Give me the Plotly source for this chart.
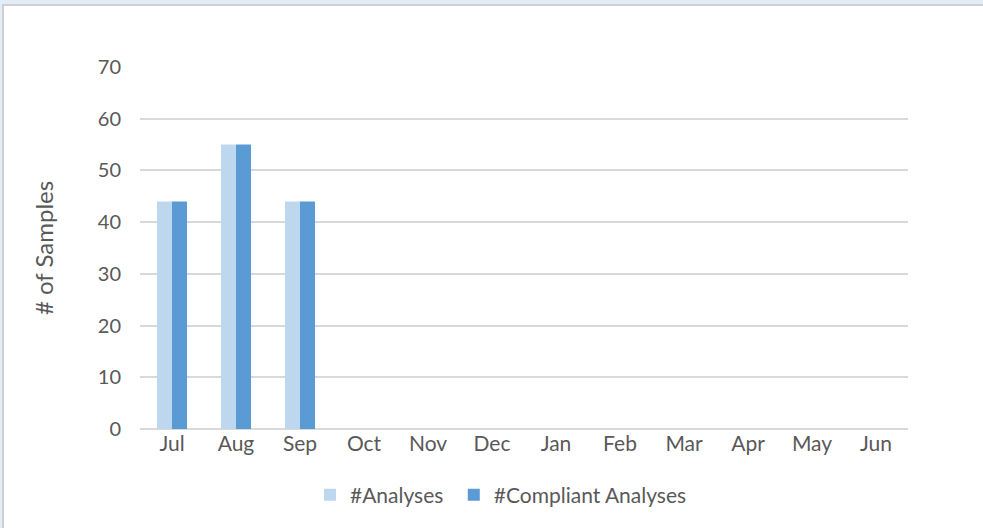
import plotly.graph_objects as go

months = ["Jul", "Aug", "Sep", "Oct", "Nov", "Dec", "Jan", "Feb", "Mar", "Apr", "May", "Jun"]
analyses = [44, 55, 44, None, None, None, None, None, None, None, None, None]
compliant = [44, 55, 44, None, None, None, None, None, None, None, None, None]
series_names = ["#Analyses", "#Compliant Analyses"]
y_ticks = [0, 10, 20, 30, 40, 50, 60, 70]

FONT = "Lato, Open Sans, sans-serif"
GRAY = "#595959"
NBSP = "\u00a0"

L, R, T, B = 140, 75, 67, 99
PW, PH = 983 - L - R, 528 - T - B

fig = go.Figure()
fig.add_trace(go.Bar(x=months, y=analyses, name=series_names[0] + NBSP,
                     marker=dict(color="#bdd7ee", line=dict(width=0))))
fig.add_trace(go.Bar(x=months, y=compliant, name=series_names[1],
                     marker=dict(color="#5b9bd5", line=dict(width=0))))

fig.update_layout(
    width=983, height=528,
    margin=dict(l=L, r=R, t=T, b=B, autoexpand=False),
    paper_bgcolor="#e4ecf7",
    plot_bgcolor="white",
    barmode="group", bargap=0.53, bargroupgap=0,
    font=dict(family=FONT, color=GRAY, size=20),
    showlegend=True,
    legend=dict(orientation="h", x=(501 - L) / PW, xanchor="center", y=(429 - 495) / PH,
                yanchor="middle", bgcolor="rgba(0,0,0,0)", font=dict(size=21, color=GRAY),
                itemwidth=30, traceorder="normal"),
    shapes=[
        dict(type="rect", xref="paper", yref="paper", layer="below",
             x0=(3 - L) / PW, x1=(995 - L) / PW, y0=(429 - 540) / PH, y1=(429 - 5) / PH,
             fillcolor="white", line=dict(color="#d0d0d0", width=2)),
    ],
)
fig.update_xaxes(showgrid=False, showline=False, ticks="", automargin=False,
                 tickfont=dict(size=21, color=GRAY))
fig.update_yaxes(range=[0, 70], tickvals=y_ticks, showgrid=True, gridcolor="#d9d9d9", gridwidth=1.5,
                 zeroline=True, zerolinecolor="#d9d9d9", zerolinewidth=1.5, automargin=False,
                 ticks="", ticklabelstandoff=18, tickfont=dict(size=20, color=GRAY),
                 title=dict(text="# of Samples", font=dict(size=24, color=GRAY), standoff=37))

fig.write_html("out.html", config={"displayModeBar": False},
               post_script="document.body.style.margin='0';document.body.style.background='#e4ecf7';")
